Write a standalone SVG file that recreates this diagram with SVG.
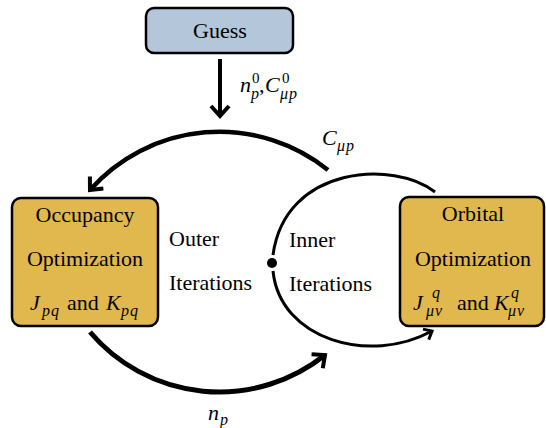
<svg xmlns="http://www.w3.org/2000/svg" width="546" height="428" viewBox="0 0 546 428">
<style>
  text { font-family: "Liberation Serif", "Times New Roman", serif; fill: #000; }
  .t { font-size: 22px; }
  .m { font-size: 22px; font-style: italic; }
  .s { font-size: 16px; font-style: italic; letter-spacing: 1px; }
  .n { font-size: 15px; font-style: normal; letter-spacing: 0; }
  .box { stroke: #000; stroke-width: 2.5; }
  .conn { fill: none; stroke: #000; stroke-linecap: butt; }
</style>
<defs>
  <marker id="ah" markerUnits="userSpaceOnUse" viewBox="-16 -12 20 24" markerWidth="20" markerHeight="24" refX="0" refY="0" orient="auto">
    <path d="M -10,-9 L 0,0 L -10,9" fill="none" stroke="#000" stroke-width="4"/>
  </marker>
  <marker id="ahs" markerUnits="userSpaceOnUse" viewBox="-12 -10 16 20" markerWidth="16" markerHeight="20" refX="0" refY="0" orient="auto">
    <path d="M -7,-6 L 0,0 L -7,6" fill="none" stroke="#000" stroke-width="3"/>
  </marker>
</defs>

<g id="connectors">
  <line class="conn" x1="220" y1="59" x2="220" y2="116" stroke-width="4" marker-end="url(#ah)"/>
  <path class="conn" d="M 328,170 A 173 173 0 0 0 90,190" stroke-width="4.5" marker-end="url(#ah)"/>
  <path class="conn" d="M 90,332 A 169.5 169.5 0 0 0 325,355" stroke-width="5" marker-end="url(#ah)"/>
  <path class="conn" d="M 435,192 C 395,160 285,165 273,255" stroke-width="3"/>
  <path class="conn" d="M 273,271 C 280,340 370,365 432,331" stroke-width="3" marker-end="url(#ahs)"/>
  <circle cx="272" cy="263" r="5" fill="#000"/>
</g>

<g id="guess">
  <rect class="box" x="146" y="8" width="147" height="45" rx="8" fill="#b4c6da"/>
  <text class="t" x="220" y="38" text-anchor="middle">Guess</text>
</g>

<g id="occupancy">
  <rect class="box" x="12" y="198" width="146" height="128" rx="9" fill="#e1b84e"/>
  <text class="t" x="85" y="222" text-anchor="middle">Occupancy</text>
  <text class="t" x="85" y="266" text-anchor="middle">Optimization</text>
  <text class="m" x="30" y="310">J<tspan class="s" x="42" y="316">pq</tspan><tspan class="t" x="67" y="310" font-style="normal" letter-spacing="0">and</tspan><tspan x="106" y="310">K</tspan><tspan class="s" x="121" y="316">pq</tspan></text>
</g>

<g id="orbital">
  <rect class="box" x="400" y="197" width="144" height="129" rx="9" fill="#e1b84e"/>
  <text class="t" x="473" y="221" text-anchor="middle">Orbital</text>
  <text class="t" x="473" y="266" text-anchor="middle">Optimization</text>
  <text class="m" x="413" y="310">J<tspan class="s" x="432" y="298">q</tspan><tspan class="s" x="426" y="316">μν</tspan><tspan x="457" y="310" font-style="normal" letter-spacing="0">and</tspan><tspan x="494" y="310" letter-spacing="0">K</tspan><tspan class="s" x="511" y="298">q</tspan><tspan class="s" x="508" y="316">μν</tspan></text>
</g>

<g id="outer-label">
  <text class="t" x="169" y="246">Outer</text>
  <text class="t" x="169" y="290">Iterations</text>
</g>

<g id="inner-label">
  <text class="t" x="289" y="247">Inner</text>
  <text class="t" x="289" y="291">Iterations</text>
</g>

<g id="labels">
  <text class="m" x="240" y="92">n<tspan class="n" x="252" y="83">0</tspan><tspan class="s" x="251" y="99">p</tspan><tspan x="259" y="92" font-style="normal">,</tspan><tspan x="265" y="92">C</tspan><tspan class="n" x="282" y="83">0</tspan><tspan class="s" x="280" y="99">μp</tspan></text>
  <text class="m" x="322" y="145">C<tspan class="s" x="337" y="151">μp</tspan></text>
  <text class="m" x="208" y="420">n<tspan class="s" x="220" y="425">p</tspan></text>
</g>
</svg>
